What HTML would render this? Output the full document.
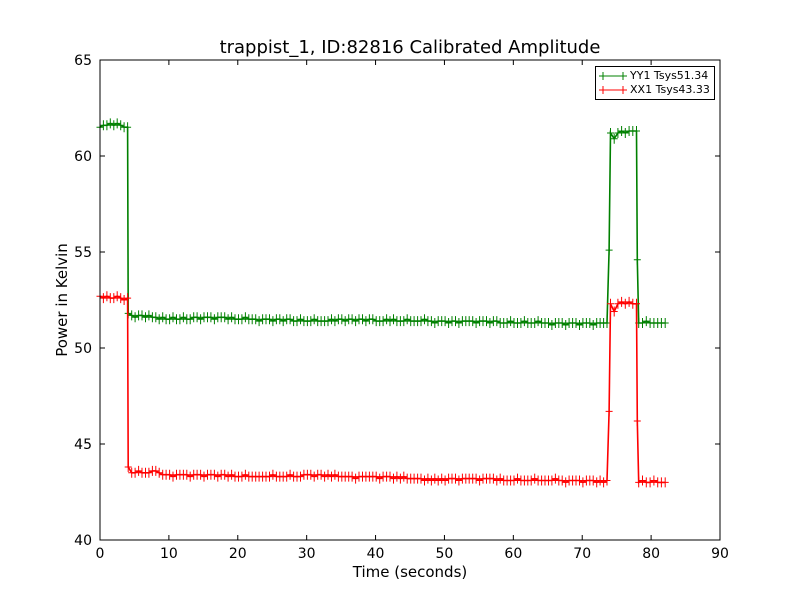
<!DOCTYPE html>
<html><head><meta charset="utf-8"><style>
body{margin:0;background:#fff;}
svg{display:block;font-family:"DejaVu Sans","Liberation Sans",sans-serif;}
</style></head><body>
<svg id="chart" width="800" height="600">
<rect x="0" y="0" width="800" height="600" fill="#fff"/>
<g id="plot"></g>
<g id="axes"></g>
</svg>
<script>
const xTicks=[0,10,20,30,40,50,60,70,80,90];
const yTicks=[40,45,50,55,60,65];
const segments=[[0,0.5,9],[4.1,0.5,140],[73.9,0.3,1],[74.1,0.54,8],[78.0,0.4,1],[78.2,0.55,8]];
const yy1=[61.5,61.6,61.6,61.7,61.6,61.7,61.6,61.5,61.5,
51.8,51.7,51.6,51.7,51.7,51.6,51.7,51.6,51.6,51.5,
51.6,51.5,51.5,51.6,51.5,51.5,51.6,51.5,51.5,51.6,
51.6,51.5,51.6,51.6,51.6,51.5,51.6,51.6,51.6,51.5,
51.6,51.5,51.5,51.5,51.6,51.5,51.5,51.5,51.4,51.5,
51.5,51.5,51.4,51.5,51.5,51.4,51.5,51.5,51.4,51.4,
51.5,51.4,51.4,51.4,51.5,51.4,51.4,51.4,51.4,51.5,
51.4,51.5,51.5,51.4,51.5,51.5,51.4,51.5,51.5,51.4,
51.5,51.5,51.4,51.4,51.4,51.5,51.4,51.5,51.4,51.4,
51.4,51.5,51.4,51.4,51.4,51.4,51.5,51.4,51.4,51.3,
51.4,51.4,51.4,51.3,51.4,51.4,51.3,51.4,51.4,51.4,
51.4,51.3,51.4,51.4,51.4,51.3,51.4,51.4,51.3,51.3,
51.3,51.4,51.3,51.3,51.3,51.4,51.3,51.3,51.3,51.4,
51.3,51.3,51.3,51.2,51.3,51.3,51.3,51.2,51.3,51.3,
51.3,51.2,51.3,51.3,51.3,51.2,51.3,51.3,51.3,51.3,
55.1,
61.2,60.9,61.2,61.3,61.2,61.3,61.3,61.3,
54.6,
51.3,51.3,51.4,51.3,51.3,51.3,51.3,51.3];
const xx1=[52.7,52.6,52.7,52.6,52.6,52.7,52.6,52.5,52.6,
43.8,43.5,43.5,43.6,43.5,43.5,43.5,43.6,43.6,43.5,
43.4,43.4,43.4,43.3,43.4,43.4,43.4,43.4,43.3,43.4,
43.4,43.4,43.3,43.4,43.4,43.4,43.3,43.4,43.4,43.3,
43.4,43.3,43.3,43.3,43.4,43.3,43.3,43.3,43.3,43.3,
43.3,43.3,43.4,43.3,43.3,43.3,43.3,43.4,43.3,43.3,
43.3,43.4,43.4,43.4,43.3,43.4,43.4,43.3,43.4,43.3,
43.4,43.3,43.3,43.3,43.3,43.3,43.2,43.3,43.3,43.3,
43.3,43.3,43.3,43.2,43.3,43.3,43.3,43.2,43.3,43.2,
43.3,43.2,43.2,43.2,43.2,43.2,43.1,43.2,43.1,43.2,
43.1,43.2,43.1,43.2,43.2,43.2,43.1,43.2,43.2,43.2,
43.2,43.2,43.1,43.2,43.2,43.2,43.2,43.1,43.2,43.1,
43.1,43.1,43.1,43.2,43.1,43.1,43.1,43.1,43.2,43.1,
43.1,43.1,43.1,43.1,43.2,43.1,43.1,43.0,43.1,43.1,
43.1,43.1,43.0,43.1,43.1,43.1,43.0,43.1,43.0,43.1,
46.7,
52.3,51.9,52.3,52.4,52.3,52.4,52.3,52.3,
46.2,
43.0,43.1,43.0,43.0,43.1,43.0,43.0,43.0];
const seriesNames=["YY1 Tsys51.34","XX1 Tsys43.33"];

const L=100,R=720,T=60,B=540,X0=0,X1=90,Y0=40,Y1=65;
const sx=v=>L+(v-X0)/(X1-X0)*(R-L);
const sy=v=>B-(v-Y0)/(Y1-Y0)*(B-T);
const NS="http://www.w3.org/2000/svg";
function mk(tag,attrs,parent){const e=document.createElementNS(NS,tag);for(const k in attrs)e.setAttribute(k,attrs[k]);parent.appendChild(e);return e;}
const times=[];
segments.forEach(s=>{for(let i=0;i<s[2];i++)times.push(s[0]+i*s[1]);});
const plot=document.getElementById('plot');
const axes=document.getElementById('axes');
function drawSeries(vals,color,name){
  let d='',m='';
  vals.forEach((v,i)=>{const x=sx(times[i]),y=sy(v);d+=(i?'L':'M')+x.toFixed(1)+' '+y.toFixed(1);
    m+='M'+(x-3.5).toFixed(1)+' '+y.toFixed(1)+'h7M'+x.toFixed(1)+' '+(y-5).toFixed(1)+'v10';});
  const p=mk('path',{d:d,fill:'none',stroke:color,'stroke-width':1.6},plot);
  
  
  const q=mk('path',{d:m,fill:'none',stroke:color,'stroke-width':1},plot);
  
  
}
drawSeries(yy1,'#008000','yy1-series');
drawSeries(xx1,'#ff0000','xx1-series');
const frame=mk('rect',{x:L,y:T,width:R-L,height:B-T,fill:'none',stroke:'#000','stroke-width':1},axes);


xTicks.forEach(v=>{const x=sx(v);
  mk('path',{d:`M${x} ${B}v-5M${x} ${T}v5`,stroke:'#000'},axes);
  const t=mk('text',{x:x,y:B+18,'text-anchor':'middle','font-size':14},axes);t.textContent=v;
  
  });
yTicks.forEach(v=>{const y=sy(v);
  mk('path',{d:`M${L} ${y}h5M${R} ${y}h-5`,stroke:'#000'},axes);
  const t=mk('text',{x:L-8,y:y+5,'text-anchor':'end','font-size':14},axes);t.textContent=v;
  
  });
</script>
<svg style="position:absolute;left:0;top:0" width="800" height="600">
<text x="410" y="53" text-anchor="middle" font-size="18" font-family="DejaVu Sans,Liberation Sans,sans-serif">trappist_1, ID:82816 Calibrated Amplitude</text>
<text x="410" y="577" text-anchor="middle" font-size="15" font-family="DejaVu Sans,Liberation Sans,sans-serif">Time (seconds)</text>
<text transform="translate(67,300) rotate(-90)" text-anchor="middle" font-size="15" font-family="DejaVu Sans,Liberation Sans,sans-serif">Power in Kelvin</text>
<g font-family="DejaVu Sans,Liberation Sans,sans-serif" font-size="11">
<rect x="595.5" y="66.5" width="119" height="33" fill="#fff" stroke="#000"/>
<g><path d="M599 76h28M603 72v8M623 72v8" stroke="#008000" fill="none"/><text x="630" y="79">YY1 Tsys51.34</text></g>
<g><path d="M599 90h28M603 86v8M623 86v8" stroke="#ff0000" fill="none"/><text x="630" y="93">XX1 Tsys43.33</text></g>
</g>
</svg>
</body></html>
